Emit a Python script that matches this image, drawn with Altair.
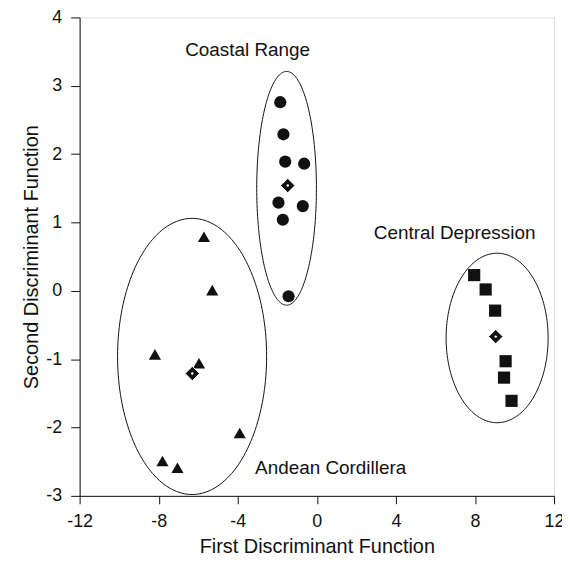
import altair as alt
import numpy as np
import pandas as pd

# Group observations
coastal_x = [-1.85, -1.69, -1.60, -0.64, -1.94, -0.71, -1.72, -1.43]
coastal_y = [2.76, 2.29, 1.89, 1.86, 1.29, 1.24, 1.04, -0.08]
andean_x = [-5.71, -5.29, -8.19, -5.96, -3.90, -7.81, -7.05]
andean_y = [0.79, 0.01, -0.93, -1.06, -2.08, -2.49, -2.59]
central_x = [7.96, 8.54, 9.02, 9.55, 9.47, 9.85]
central_y = [0.23, 0.02, -0.29, -1.03, -1.27, -1.61]

# Group centroids
centroid_x = [-1.47, -6.30, 9.05]
centroid_y = [1.54, -1.21, -0.67]

# Ellipses: centre x, centre y, half-width, half-height
ell_names = ["Coastal Range", "Andean Cordillera", "Central Depression"]
ell_cx = [-1.53, -6.31, 9.12]
ell_cy = [1.50, -0.96, -0.69]
ell_a = [1.51, 3.77, 2.58]
ell_b = [1.71, 2.02, 1.24]

# Region labels
label_text = ["Coastal Range", "Central Depression", "Andean Cordillera"]
label_x = [-3.50, 6.97, 0.70]
label_y = [3.53, 0.84, -2.60]

x_ticks = list(range(-12, 13, 2))
y_ticks = list(range(-3, 5))

FONT = "Liberation Sans"
COL = "#111111"

xs = alt.Scale(domain=[-12, 12], nice=False, zero=False)
ys = alt.Scale(domain=[-3, 4], nice=False, zero=False)

# ellipse outlines
t = np.linspace(0, 2 * np.pi, 181)
rows = []
for n, cx, cy, a, b in zip(ell_names, ell_cx, ell_cy, ell_a, ell_b):
    for i, tt in enumerate(t):
        rows.append({"g": n, "i": i, "x": cx + a * np.cos(tt), "y": cy + b * np.sin(tt)})
ell_df = pd.DataFrame(rows)

xenc = alt.X("x:Q", scale=xs, axis=alt.Axis(
    values=x_ticks, title="First Discriminant Function", grid=False,
    labelExpr="datum.value + ''",
    domainColor=COL, tickColor=COL, tickSize=8, labelFont=FONT, labelFontSize=18,
    labelColor=COL, titleFont=FONT, titleFontSize=20, titleFontWeight="normal",
    titleColor=COL, labelPadding=9, titlePadding=6, labelFlush=False))
yenc = alt.Y("y:Q", scale=ys, axis=alt.Axis(
    values=y_ticks, title="Second Discriminant Function", grid=False,
    labelExpr="datum.value + ''",
    domainColor=COL, tickColor=COL, tickSize=9, labelFont=FONT, labelFontSize=18,
    labelColor=COL, titleFont=FONT, titleFontSize=20, titleFontWeight="normal",
    titleColor=COL, labelPadding=9, titlePadding=4, labelFlush=False))

ellipses = alt.Chart(ell_df).mark_line(color=COL, strokeWidth=1).encode(
    x=xenc, y=yenc, detail="g:N", order="i:Q")

coastal = alt.Chart(pd.DataFrame({"x": coastal_x, "y": coastal_y})).mark_point(
    shape="circle", filled=True, color=COL, size=150, opacity=1).encode(x="x:Q", y="y:Q")
andean = alt.Chart(pd.DataFrame({"x": andean_x, "y": andean_y})).mark_point(
    shape="triangle-up", filled=True, color=COL, size=150, opacity=1).encode(x="x:Q", y="y:Q")
central = alt.Chart(pd.DataFrame({"x": central_x, "y": central_y})).mark_point(
    shape="square", filled=True, color=COL, size=150, opacity=1).encode(x="x:Q", y="y:Q")

cent_df = pd.DataFrame({"x": centroid_x, "y": centroid_y})
cent = alt.Chart(cent_df).mark_point(
    shape="diamond", filled=True, color=COL, size=210, opacity=1,
    stroke="white", strokeWidth=1).encode(x="x:Q", y="y:Q")
cent_dot = alt.Chart(cent_df).mark_point(
    shape="circle", filled=True, color="white", size=6, opacity=1).encode(x="x:Q", y="y:Q")

labels = alt.Chart(pd.DataFrame({"x": label_x, "y": label_y, "t": label_text})).mark_text(
    font=FONT, fontSize=19, color=COL, align="center", baseline="middle").encode(
    x="x:Q", y="y:Q", text="t:N")

chart = alt.layer(ellipses, coastal, andean, central, cent, cent_dot, labels).properties(
    width=477, height=481,
    autosize=alt.AutoSizeParams(type="none"),
    padding={"left": 72, "top": 8, "right": 8, "bottom": 61},
).configure_view(stroke=None).configure(background="white")

chart.save("out.html", embed_options={"renderer": "svg", "actions": False})
